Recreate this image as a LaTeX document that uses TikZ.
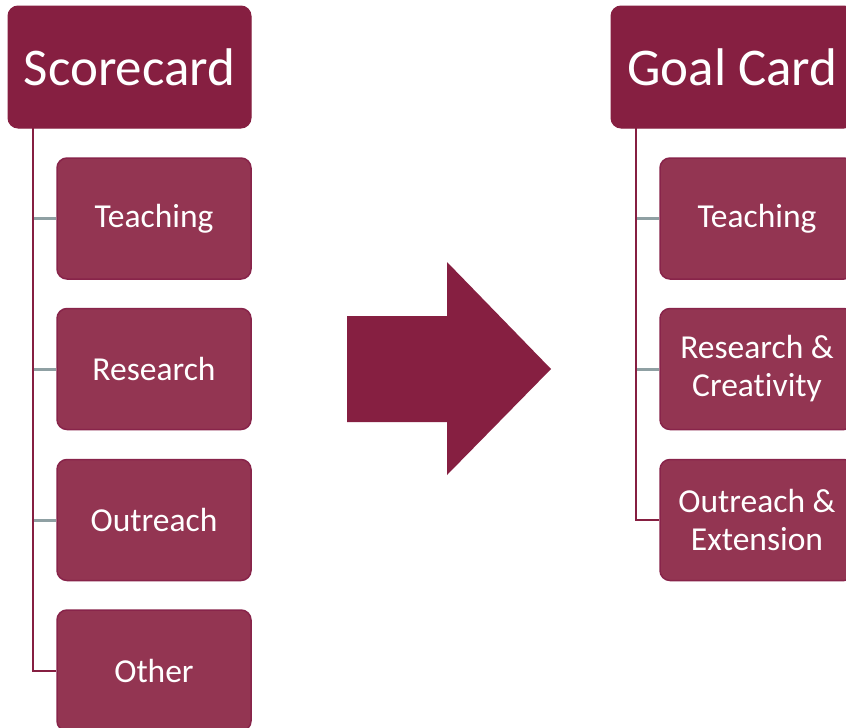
\documentclass[tikz,border=0pt]{standalone}
\usepackage{fontspec}
\setmainfont[Ligatures={NoCommon}]{Carlito}
\definecolor{vtmaroon}{HTML}{861F41}
\definecolor{childfill}{HTML}{933552}
\definecolor{childborder}{HTML}{88244A}
\definecolor{conngrey}{HTML}{8FA0A3}
\tikzset{
  header/.style={draw=vtmaroon, fill=vtmaroon, rounded corners=10pt, line width=1pt,
    minimum width=243pt, minimum height=122pt, inner sep=0pt, text=white,
    font=\fontsize{53}{60}\selectfont},
  child/.style={draw=childborder, fill=childfill, rounded corners=10pt, line width=1.5pt,
    minimum width=194pt, minimum height=121pt, inner sep=0pt, text=white, align=center,
    font=\fontsize{33.5}{38}\selectfont},
  trunk/.style={draw=vtmaroon, line width=2pt},
  branch/.style={draw=conngrey, line width=3pt},
}
\begin{document}
\begin{tikzpicture}[x=1pt,y=-1pt]
\clip (0,0) rectangle (846,728);
\fill[white] (0,0) rectangle (846,728);
% left side
\node[header] (sc) at (129.5,67) {Scorecard};
\node[child] (lt) at (154,218.5) {Teaching};
\node[child] (lr) at (154,369) {Research};
\node[child] (lo) at (154,520) {Outreach};
\node[child] (lx) at (154,670.5) {Other};
\coordinate (ltrunk) at (33,128);
\draw[branch] (ltrunk |- lt.west) -- (lt.west);
\draw[branch] (ltrunk |- lr.west) -- (lr.west);
\draw[branch] (ltrunk |- lo.west) -- (lo.west);
\draw[trunk] (ltrunk) |- (lx.west);
% arrow
\fill[vtmaroon] (347,316) -- (447,316) -- (447,262) -- (551,369) -- (447,475) -- (447,422) -- (347,422) -- cycle;
% right side
\node[header] (gc) at (732.5,67) {Goal Card};
\node[child] (rt) at (757,218.5) {Teaching};
\node[child] (rr) at (757,369) {Research \&\\Creativity};
\node[child] (ro) at (757,520) {Outreach \&\\Extension};
\coordinate (rtrunk) at (636,128);
\draw[branch] (rtrunk |- rt.west) -- (rt.west);
\draw[branch] (rtrunk |- rr.west) -- (rr.west);
\draw[trunk] (rtrunk) |- (ro.west);
\end{tikzpicture}
\end{document}
